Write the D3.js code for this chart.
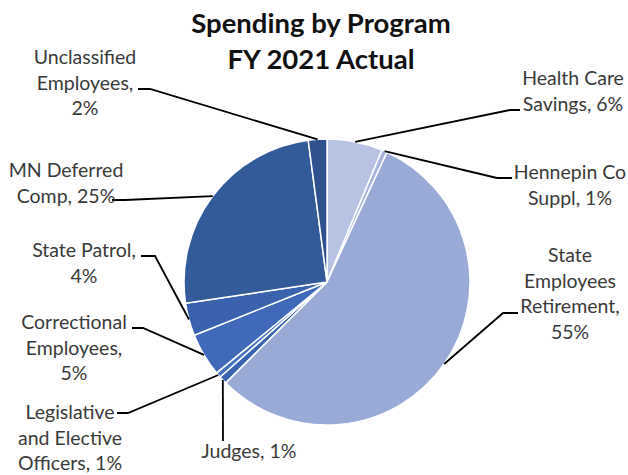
<!DOCTYPE html>
<html>
<head>
<meta charset="utf-8">
<script src="https://cdn.jsdelivr.net/npm/d3@7"></script>
<style>
  body { margin: 0; background: #fff; }
  text { font-family: Lato, "Open Sans", sans-serif; }
</style>
</head>
<body>
<div id="chart"></div>
<script>
// data (percent of total spending)
const categories = [
  "Health Care Savings", "Hennepin Co Suppl", "State Employees Retirement",
  "Judges", "Legislative and Elective Officers", "Correctional Employees",
  "State Patrol", "MN Deferred Comp", "Unclassified Employees"
];
const values = [6.3, 0.6, 55.7, 0.9, 0.6, 4.9, 3.7, 25.3, 2.1];
const labelLines = [
  ["Health Care", "Savings, 6%"],
  ["Hennepin Co", "Suppl, 1%"],
  ["State", "Employees", "Retirement,", "55%"],
  ["Judges, 1%"],
  ["Legislative", "and Elective", "Officers, 1%"],
  ["Correctional", "Employees,", "5%"],
  ["State Patrol,", "4%"],
  ["MN Deferred", "Comp, 25%"],
  ["Unclassified", "Employees,", "2%"]
];
const colors = ["#b8c3e3", "#a7b5dd", "#9aaad6", "#3b64b0", "#4571c1",
                "#4169b9", "#3a62ad", "#335a99", "#2f528f"];

// label placement: text centre x, first baseline y, leader elbow points
const labelPos = [
  { x: 573, y: 85,  lead: [[520, 110], [510, 110]] },
  { x: 570, y: 179, lead: [[512, 178], [497, 178]] },
  { x: 570, y: 262, lead: [[518, 313], [503, 313]] },
  { x: 249, y: 458, lead: [[223, 441]] },
  { x: 70,  y: 419, lead: [[117, 413], [128, 413]] },
  { x: 74,  y: 329, lead: [[132, 328], [143, 328]] },
  { x: 84,  y: 257, lead: [[141, 256], [155, 256]] },
  { x: 66,  y: 177, lead: [[112, 200], [125, 200]] },
  { x: 85,  y: 64,  lead: [[138, 89], [150, 89]] }
];

const width = 628, height = 475;
const cx = 327, cy = 282, radius = 143;
const lineH = 25.5;

const svg = d3.select("#chart").append("svg")
  .attr("width", width)
  .attr("height", height);

// title
svg.append("text")
  .attr("x", 321).attr("y", 33)
  .attr("text-anchor", "middle")
  .attr("font-size", 27.5).attr("font-weight", "bold")
  .attr("fill", "#111")
  .selectAll("tspan")
  .data(["Spending by Program", "FY 2021 Actual"])
  .join("tspan")
  .attr("x", 321)
  .attr("dy", (d, i) => i ? 36 : 0)
  .text(d => d);

const pie = d3.pie().sort(null).value(d => d);
const arcs = pie(values);

const arc = d3.arc().innerRadius(0).outerRadius(radius);
const edge = d3.arc().innerRadius(radius).outerRadius(radius);

const g = svg.append("g").attr("transform", `translate(${cx},${cy})`);

g.selectAll("path.slice")
  .data(arcs)
  .join("path")
  .attr("class", "slice")
  .attr("d", arc)
  .attr("fill", (d, i) => colors[i])
  .attr("stroke", "#fff")
  .attr("stroke-width", 1.5)
  .attr("stroke-linejoin", "round");

// leader lines
const line = d3.line();
svg.selectAll("path.leader")
  .data(arcs)
  .join("path")
  .attr("class", "leader")
  .attr("d", (d, i) => {
    const c = edge.centroid(d);
    return line(labelPos[i].lead.concat([[cx + c[0], cy + c[1]]]));
  })
  .attr("fill", "none")
  .attr("stroke", "#000")
  .attr("stroke-width", 1.8);

// data labels
svg.selectAll("text.label")
  .data(arcs)
  .join("text")
  .attr("class", "label")
  .attr("text-anchor", "middle")
  .attr("font-size", 19.5)
  .attr("fill", "#3a3a3a")
  .attr("y", (d, i) => labelPos[i].y)
  .each(function(d, i) {
    d3.select(this).selectAll("tspan")
      .data(labelLines[i])
      .join("tspan")
      .attr("x", labelPos[i].x)
      .attr("dy", (t, j) => j ? lineH : 0)
      .text(t => t);
  });
</script>
</body>
</html>
